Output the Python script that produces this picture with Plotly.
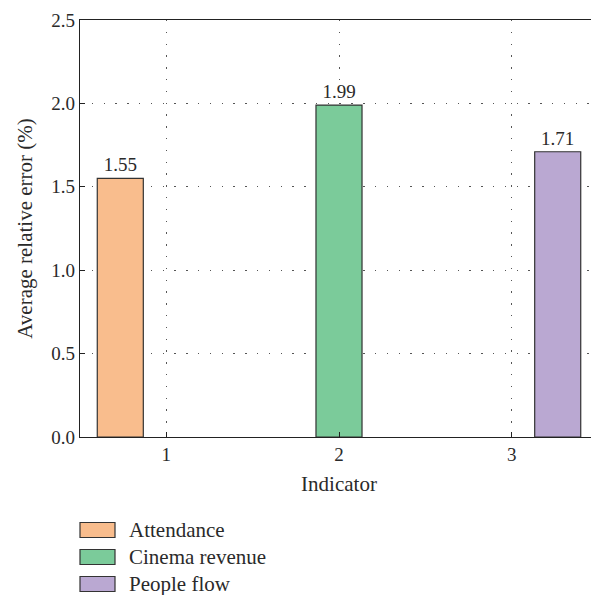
import plotly.graph_objects as go

categories = [1, 2, 3]
series_names = ["Attendance", "Cinema revenue", "People flow"]
attendance = [1.55, None, None]
cinema_revenue = [None, 1.99, None]
people_flow = [None, None, 1.71]
y_ticks = [0.0, 0.5, 1.0, 1.5, 2.0, 2.5]
colors = ["#F9BD8D", "#7BCB9A", "#BAA8D2"]

FONT = "Liberation Serif"
TXT = "#2a2a2a"
OFF = 8  # page body margin
W, H = 599 - OFF, 595 - OFF
# desired plot area in window pixels: x 80..598, y 20..437
L, R, T, B = 80 - OFF, 1, 20 - OFF, 595 - 437

fig = go.Figure()
for name, vals, col in zip(series_names, [attendance, cinema_revenue, people_flow], colors):
    fig.add_trace(go.Bar(
        x=categories, y=vals, name=name,
        marker=dict(color=col, line=dict(color="#333333", width=1.2)),
        text=[f"{v:.2f}" if v is not None else "" for v in vals],
        textposition="outside", cliponaxis=False,
        textfont=dict(family=FONT, size=19, color=TXT),
        showlegend=False,
    ))

# manual legend (positions in window pixels)
pw = W - L - R
ph = H - T - B
def py2paper(py):
    return (437 - py) / ph
def px2paper(px):
    return (px - 80) / pw

rows_y = [530, 557, 584]
for i, (name, col) in enumerate(zip(series_names, colors)):
    cy = rows_y[i]
    fig.add_shape(type="rect", xref="paper", yref="paper",
                  x0=px2paper(80), x1=px2paper(115),
                  y0=py2paper(cy - 7.5), y1=py2paper(cy + 7.5),
                  fillcolor=col, line=dict(color="#333333", width=1.2))
    fig.add_annotation(xref="paper", yref="paper",
                       x=px2paper(127), y=py2paper(cy),
                       text=name, showarrow=False, xanchor="left", yanchor="middle",
                       font=dict(family=FONT, size=21, color=TXT))

axis_common = dict(
    showline=True, linecolor="#222222", linewidth=1.2, mirror=True,
    ticks="inside", ticklen=5, tickcolor="#222222",
    showgrid=True, gridcolor="#555555", griddash="1.3px,10.5px", gridwidth=1.3,
    zeroline=False,
    tickfont=dict(family=FONT, size=19, color=TXT),
)

fig.update_layout(
    width=W, height=H,
    margin=dict(l=L, r=R, t=T, b=B),
    paper_bgcolor="white", plot_bgcolor="white",
    barmode="group", bargap=0.2, bargroupgap=0,
    xaxis=dict(range=[0.5, 3.5], tickvals=categories, ticktext=[str(c) for c in categories],
               title=dict(text="Indicator", font=dict(family=FONT, size=21, color=TXT), standoff=12),
               **axis_common),
    yaxis=dict(range=[0, 2.5], tickvals=y_ticks, ticktext=[f"{v:.1f}" for v in y_ticks],
               title=dict(text="Average relative error (%)", font=dict(family=FONT, size=21, color=TXT), standoff=12),
               **axis_common),
)

fig.write_html("out.html")
